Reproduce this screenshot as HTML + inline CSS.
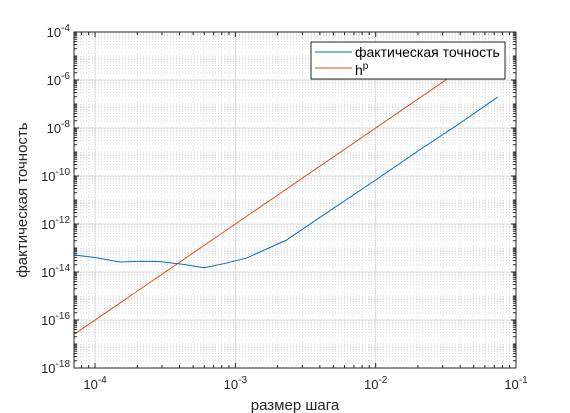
<!DOCTYPE html>
<html><head><meta charset="utf-8"><style>
body{margin:0;background:#fff;}
svg{display:block;font-family:"Liberation Sans","DejaVu Sans",sans-serif;}
</style></head><body>
<svg id="chart" width="570" height="413"></svg>
<script>
const hValues=[7.08e-5,1.0e-4,1.5e-4,2.1e-4,2.9e-4,4.2e-4,6.0e-4,8.5e-4,1.2e-3,2.3e-3,3.0e-3,5e-3,1e-2,2e-2,4e-2,7.4e-2];
const actualError=[5.1e-14,4.0e-14,2.6e-14,2.8e-14,2.7e-14,2.1e-14,1.5e-14,2.3e-14,3.8e-14,2.1e-13,6.0e-13,4.5e-12,6.8e-11,1.1e-9,1.6e-8,1.95e-7];
const hpX=[7.08e-5,3.3e-2];
const hpY=[2.5e-17,1.19e-6];
const xTicks=[-4,-3,-2,-1];
const yTicks=[-4,-6,-8,-10,-12,-14,-16,-18];
const L=74,R=516,T=32,B=368;
const xmin=Math.log10(7.08e-5),xmax=-1,ymin=-18,ymax=-4;
const sx=v=>L+(Math.log10(v)-xmin)/(xmax-xmin)*(R-L);
const sy=v=>B-(Math.log10(v)-ymin)/(ymax-ymin)*(B-T);
const svg=document.getElementById('chart');
const NS='http://www.w3.org/2000/svg';
function mk(t,a,p){const e=document.createElementNS(NS,t);for(const k in a)e.setAttribute(k,a[k]);(p||svg).appendChild(e);return e;}
const grid=mk('g',{});


mk('rect',{x:L,y:T,width:R-L,height:B-T,fill:'#fff'},grid);
for(let d=-5;d<=-1;d++){for(let m=1;m<10;m++){const v=m*Math.pow(10,d);const x=sx(v);if(x<L-0.1||x>R+0.1)continue;
 if(m===1)mk('line',{x1:x,x2:x,y1:T,y2:B,stroke:'#dcdcdc','stroke-width':1},grid);
 else mk('line',{x1:x,x2:x,y1:T,y2:B,stroke:'#c8c8c8','stroke-width':0.6,'stroke-dasharray':'1,2'},grid);}}
for(let d=-18;d<=-4;d++){for(let m=1;m<10;m++){const v=m*Math.pow(10,d);const y=sy(v);if(y<T-0.1||y>B+0.1)continue;
 if(m===1){if(d%2===0)mk('line',{x1:L,x2:R,y1:y,y2:y,stroke:'#dcdcdc','stroke-width':1},grid);else mk('line',{x1:L,x2:R,y1:y,y2:y,stroke:'#c8c8c8','stroke-width':0.6,'stroke-dasharray':'1,2'},grid);}
 else mk('line',{x1:L,x2:R,y1:y,y2:y,stroke:'#c8c8c8','stroke-width':0.6,'stroke-dasharray':'1,2'},grid);}}
const hp=mk('polyline',{points:hpX.map((x,i)=>sx(x)+','+sy(hpY[i])).join(' '),fill:'none',stroke:'#d95319','stroke-width':1});


const act=mk('polyline',{points:hValues.map((x,i)=>sx(x)+','+sy(actualError[i])).join(' '),fill:'none',stroke:'#0072bd','stroke-width':1});


const ax=mk('rect',{x:L,y:T,width:R-L,height:B-T,fill:'none',stroke:'#262626','stroke-width':1});


for(let d=-5;d<=-1;d++)for(let m=1;m<10;m++){const x=sx(m*Math.pow(10,d));if(x<L||x>R)continue;const len=m===1?5:3;
 mk('line',{x1:x,x2:x,y1:B,y2:B-len,stroke:'#262626'});mk('line',{x1:x,x2:x,y1:T,y2:T+len,stroke:'#262626'});}
for(let d=-18;d<=-4;d++)for(let m=1;m<10;m++){const y=sy(m*Math.pow(10,d));if(y<T||y>B)continue;const len=(m===1&&d%2===0)?5:3;
 mk('line',{x1:L,x2:L+len,y1:y,y2:y,stroke:'#262626'});mk('line',{x1:R,x2:R-len,y1:y,y2:y,stroke:'#262626'});}
xTicks.forEach(d=>{const t=mk('text',{x:sx(Math.pow(10,d)),y:389,'text-anchor':'middle','font-size':13,fill:'#262626'});
 
 
 t.innerHTML='10<tspan dy="-6" font-size="10">'+d+'</tspan>';});
yTicks.forEach(d=>{const t=mk('text',{x:70,y:sy(Math.pow(10,d))+5,'text-anchor':'end','font-size':13,fill:'#262626'});
 
 
 t.innerHTML='10<tspan dy="-6" font-size="10">'+d+'</tspan>';});
const xl=mk('text',{x:295,y:410,'text-anchor':'middle','font-size':15,fill:'#262626'});


xl.textContent='размер шага';
const yl=mk('text',{x:0,y:0,'text-anchor':'middle','font-size':15,fill:'#262626',transform:'translate(27,200) rotate(-90)'});


yl.textContent='фактическая точность';
const lg=mk('g',{});


mk('rect',{x:311,y:42,width:194,height:37,fill:'#fff',stroke:'#262626','stroke-width':1},lg);
mk('line',{x1:315,x2:352,y1:52,y2:52,stroke:'#0072bd'},lg);
mk('line',{x1:315,x2:352,y1:68,y2:68,stroke:'#d95319'},lg);
const t1=mk('text',{x:355,y:57,'font-size':14,fill:'#000'},lg);


t1.textContent='фактическая точность';
const t2=mk('text',{x:355,y:75,'font-size':14,fill:'#000'},lg);


t2.innerHTML='h<tspan dy="-6" font-size="10">p</tspan>';
</script>
</body></html>
